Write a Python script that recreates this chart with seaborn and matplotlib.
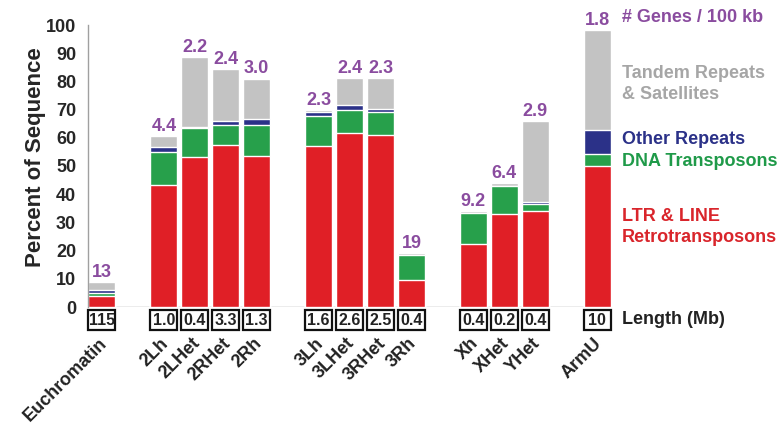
import numpy as np
import pandas as pd
import matplotlib
matplotlib.use("Agg")
import matplotlib.pyplot as plt
from matplotlib.patches import Rectangle
import seaborn as sns

# Genomic regions and their repeat composition (percent of sequence)
regions = ["Euchromatin", "2Lh", "2LHet", "2RHet", "2Rh",
           "3Lh", "3LHet", "3RHet", "3Rh",
           "Xh", "XHet", "YHet", "ArmU"]
# groups of arms separated by a blank slot on the x axis
groups = [["Euchromatin"], ["2Lh", "2LHet", "2RHet", "2Rh"],
          ["3Lh", "3LHet", "3RHet", "3Rh"], ["Xh", "XHet", "YHet"], ["ArmU"]]

ltr_line = [4.0, 43.1, 53.3, 57.6, 53.7, 57.0, 61.8, 61.1, 9.5, 22.3, 32.9, 33.9, 50.0]
dna_transposons = [0.8, 11.9, 10.3, 7.1, 11.0, 10.7, 8.1, 8.0, 8.9, 11.2, 10.1, 2.5, 4.4]
other_repeats = [1.2, 1.8, 0.4, 1.1, 2.1, 1.4, 1.7, 1.2, 0.0, 0.0, 0.0, 1.0, 8.5]
tandem_satellites = [2.8, 3.7, 24.7, 18.6, 14.2, 0.8, 9.7, 11.0, 0.6, 0.5, 1.0, 28.4, 35.3]

genes_per_100kb = [13, 4.4, 2.2, 2.4, 3.0, 2.3, 2.4, 2.3, 19, 9.2, 6.4, 2.9, 1.8]
length_mb = [115, 1.0, 0.4, 3.3, 1.3, 1.6, 2.6, 2.5, 0.4, 0.4, 0.2, 0.4, 10]

yticks = [0, 10, 20, 30, 40, 50, 60, 70, 80, 90, 100]

RED = "#e01f26"
GREEN = "#27a04b"
BLUE = "#2b3188"
GRAY = "#c3c3c3"
PURPLE = "#8a4c9f"
AXIS_GRAY = "#a0a0a0"

sns.set_style("white")
plt.rcParams["font.family"] = ["Liberation Sans", "DejaVu Sans"]
plt.rcParams["font.weight"] = "bold"

# categorical order with empty slots between chromosome groups
order = []
for i, g in enumerate(groups):
    if i > 0:
        order.append(f"_gap{i}")
    order.extend(g)
pos = {name: order.index(name) for name in regions}

df = pd.DataFrame({
    "region": regions,
    "ltr": ltr_line,
    "dna": dna_transposons,
    "other": other_repeats,
    "tandem": tandem_satellites,
})
df["c_ltr"] = df["ltr"]
df["c_dna"] = df["c_ltr"] + df["dna"]
df["c_other"] = df["c_dna"] + df["other"]
df["c_total"] = df["c_other"] + df["tandem"]

W, H = 783, 430
fig = plt.figure(figsize=(W / 100, H / 100), dpi=100)
ax = fig.add_axes([88 / W, (H - 307) / H, (611 - 88) / W, (307 - 25) / H])

bar_w = 0.87
for col, color in [("c_total", GRAY), ("c_other", BLUE), ("c_dna", GREEN), ("c_ltr", RED)]:
    sns.barplot(data=df, x="region", y=col, order=order, color=color,
                saturation=1, width=bar_w, ax=ax, zorder=2)

ax.set_xlim(-0.45, len(order) - 0.55)
ax.set_ylim(0, 100)
ax.set_xlabel("")
ax.set_ylabel("Percent of Sequence", fontsize=16, fontweight="bold")
ax.yaxis.set_label_coords(-0.08, 0.53)

# axes styling
for side in ["top", "right", "bottom"]:
    ax.spines[side].set_visible(False)
ax.spines["left"].set_color(AXIS_GRAY)
ax.spines["left"].set_linewidth(1.0)
ax.axhline(0, color=AXIS_GRAY, lw=1.0, zorder=1)
ax.set_yticks(yticks)
ax.set_yticklabels([str(t) for t in yticks], fontsize=13, fontweight="bold")
ax.tick_params(axis="y", length=7, width=1.0, color=AXIS_GRAY, pad=1.5)
ax.set_xticks([])

# gene density above bars, length boxes and region names below
for name, total, g, L in zip(regions, df["c_total"], genes_per_100kb, length_mb):
    x = pos[name]
    glabel = f"{g:.0f}" if g >= 10 else f"{g:.1f}"
    ax.text(x, total + 0.4, glabel, ha="center", va="bottom", color=PURPLE,
            fontsize=13, fontweight="bold", clip_on=False)
    llabel = f"{L:.0f}" if L >= 10 else f"{L:.1f}"
    ax.add_patch(Rectangle((x - bar_w / 2, -8.2), bar_w, 7.1, facecolor="white",
                           edgecolor="#111111", lw=1.6, clip_on=False, zorder=3))
    ax.text(x, -4.65, llabel, ha="center", va="center", fontsize=11.5,
            fontweight="bold", color="#222222", clip_on=False, zorder=4)
    ax.text(x + 0.08, -12.0, name, rotation=45, ha="right", va="center",
            rotation_mode="anchor", fontsize=13, fontweight="bold",
            color="#222222", clip_on=False)

# category key on the right
def key(y_px, text, color):
    fig.text(622 / W, 1 - y_px / H, text, ha="left", va="center", color=color,
             fontsize=13, fontweight="bold", linespacing=1.35)

key(18, "# Genes / 100 kb", PURPLE)
key(84, "Tandem Repeats\n& Satellites", "#a6a6a6")
key(140, "Other Repeats", BLUE)
key(161, "DNA Transposons", "#1f9a49")
key(227, "LTR & LINE\nRetrotransposons", "#d9252b")
key(320, "Length (Mb)", "#222222")

fig.savefig("out.png", dpi=100)
